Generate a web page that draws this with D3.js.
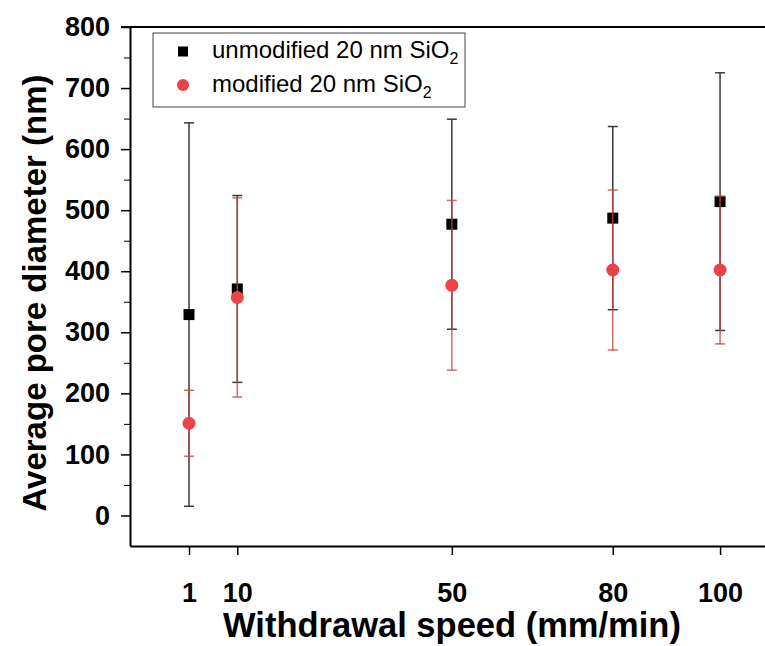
<!DOCTYPE html>
<html>
<head>
<meta charset="utf-8">
<script src="https://cdn.jsdelivr.net/npm/d3@7"></script>
<style>
  body { margin: 0; background: #fff; }
  svg { font-family: "Liberation Sans", Arial, sans-serif; }
</style>
</head>
<body>
<div id="chart"></div>
<script>
// Data
const speeds = [1, 10, 50, 80, 100];
const unmodMean = [329, 371, 477, 487, 514];
const unmodErr = [314, 153, 172, 150, 211];
const modMean = [151, 357, 377, 402, 402];
const modErr = [54, 163, 139, 131, 121];
const yTicks = [0, 100, 200, 300, 400, 500, 600, 700, 800];
const yMinor = [50, 150, 250, 350, 450, 550, 650, 750];

const W = 765, H = 646;
const svg = d3.select("#chart").append("svg")
  .attr("width", W)
  .attr("height", H);

const x = d3.scaleLinear().domain([-10, 110]).range([130, 773.7]);
const y = d3.scaleLinear().domain([-50, 800]).range([546, 27]);

// frame (top and right lines, right one runs off the page)
svg.append("line")
  .attr("x1", 121).attr("x2", x(110))
  .attr("y1", y(800)).attr("y2", y(800))
  .attr("stroke", "#000").attr("stroke-width", 2);
svg.append("line")
  .attr("x1", x(110)).attr("x2", x(110))
  .attr("y1", y(800)).attr("y2", y(-50))
  .attr("stroke", "#000").attr("stroke-width", 2);

// X axis
const xAxis = svg.append("g")
  .attr("transform", `translate(0,${y(-50)})`)
  .call(d3.axisBottom(x).tickValues(speeds).tickSize(9).tickPadding(28).tickSizeOuter(0));

// Y axis
const yAxis = svg.append("g")
  .attr("transform", `translate(${x(-10)},0)`)
  .call(d3.axisLeft(y).tickValues(yTicks).tickSize(9).tickPadding(11).tickSizeOuter(0));

svg.append("g")
  .attr("transform", `translate(${x(-10)},0)`)
  .call(d3.axisLeft(y).tickValues(yMinor).tickSize(6).tickFormat("").tickSizeOuter(0))
  .select(".domain").remove();

[xAxis, yAxis].forEach(g => {
  g.select(".domain").attr("stroke-width", 2);
  g.selectAll(".tick line").attr("stroke-width", 1.5);
  g.selectAll(".tick text")
    .attr("font-family", "'Liberation Sans', Arial, sans-serif")
    .attr("font-size", 27)
    .attr("font-weight", "bold")
    .attr("fill", "#000");
});

// axis titles
svg.append("text")
  .attr("x", 452).attr("y", 637)
  .attr("text-anchor", "middle")
  .attr("font-size", 34.5).attr("font-weight", "bold")
  .text("Withdrawal speed (mm/min)");

svg.append("text")
  .attr("transform", "translate(46,293) rotate(-90)")
  .attr("text-anchor", "middle")
  .attr("font-size", 33).attr("font-weight", "bold")
  .text("Average pore diameter (nm)");

// error bars + markers
function drawErrors(means, errs, color, width) {
  const g = svg.append("g").attr("stroke", color).attr("stroke-width", width);
  speeds.forEach((s, i) => {
    const lo = y(means[i] - errs[i]), hi = y(means[i] + errs[i]), cx = x(s);
    g.append("line").attr("x1", cx).attr("x2", cx).attr("y1", lo).attr("y2", hi);
    g.append("line").attr("x1", cx - 5).attr("x2", cx + 5).attr("y1", lo).attr("y2", lo);
    g.append("line").attr("x1", cx - 5).attr("x2", cx + 5).attr("y1", hi).attr("y2", hi);
  });
}

drawErrors(unmodMean, unmodErr, "#3a3a3a", 1.5);
svg.append("g").selectAll("rect")
  .data(speeds)
  .enter()
  .append("rect")
  .attr("x", d => x(d) - 5.5)
  .attr("y", (d, i) => y(unmodMean[i]) - 5.5)
  .attr("width", 11).attr("height", 11)
  .attr("fill", "#000");

drawErrors(modMean, modErr, "rgba(196,70,70,0.8)", 1.5);
svg.append("g").selectAll("circle")
  .data(speeds)
  .enter()
  .append("circle")
  .attr("cx", d => x(d))
  .attr("cy", (d, i) => y(modMean[i]))
  .attr("r", 6.5)
  .attr("fill", "#e84449");

// legend
const legend = svg.append("g");
legend.append("rect")
  .attr("x", 153).attr("y", 33).attr("width", 312).attr("height", 74)
  .attr("fill", "#fff").attr("stroke", "#444").attr("stroke-width", 1);
legend.append("rect")
  .attr("x", 178).attr("y", 46.5).attr("width", 10).attr("height", 10)
  .attr("fill", "#000");
legend.append("circle")
  .attr("cx", 183).attr("cy", 85).attr("r", 6)
  .attr("fill", "#e84449");

const labels = ["unmodified 20 nm SiO", "modified 20 nm SiO"];
labels.forEach((t, i) => {
  const txt = legend.append("text")
    .attr("x", 212).attr("y", 58 + i * 34)
    .attr("font-size", 24).attr("fill", "#000");
  txt.append("tspan").text(t);
  txt.append("tspan").attr("dy", 6).attr("font-size", 16).text("2");
});
</script>
</body>
</html>
